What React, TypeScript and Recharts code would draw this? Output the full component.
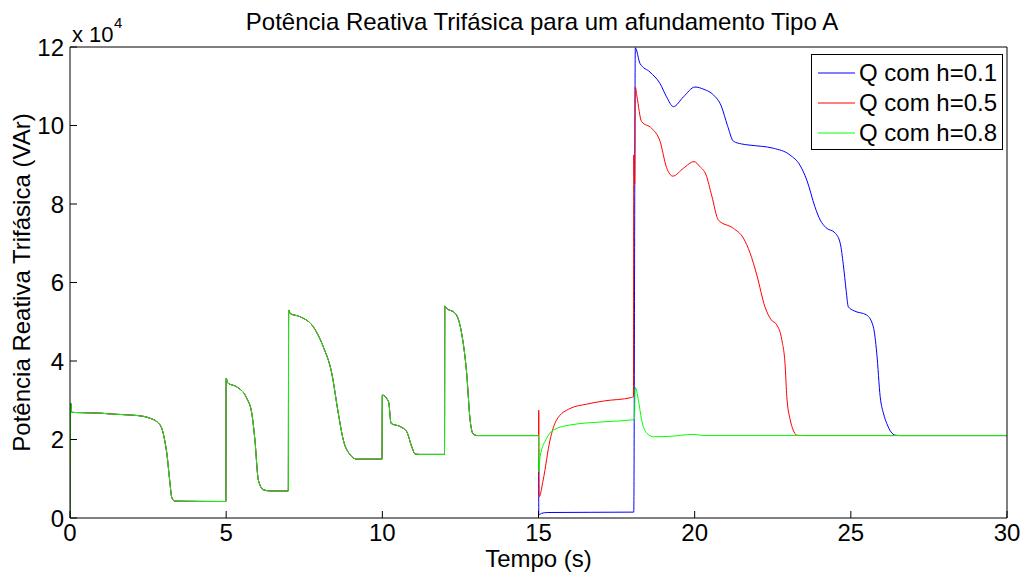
import { CartesianGrid, Legend, Line, LineChart, XAxis, YAxis } from 'recharts'

// tempo (s) x potência reativa (VAr) — trecho comum às três curvas (0 a 15 s)
const commonBefore15: [number, number][] = [
  [0, 0], [0.02, 29300], [0.06, 26900], [1, 26700], [1.3, 26500], [2, 26200],
  [2.35, 25900], [2.6, 25300], [2.77, 24600], [2.94, 22800], [3.05, 19000], [3.1, 16500],
  [3.19, 9700], [3.26, 5200], [3.35, 4300], [4.99, 4200],
  [5.0, 35600], [5.05, 34400], [5.34, 33400], [5.66, 30500], [5.82, 26700],
  [5.92, 19900], [6.03, 9700], [6.19, 7200], [6.4, 6900], [6.99, 6900],
  [7.0, 53000], [7.05, 52100], [7.36, 51300], [7.79, 48700], [8.11, 43600],
  [8.38, 36900], [8.59, 26700], [8.75, 19900], [8.97, 16100], [9.18, 15000],
  [9.99, 15000],
  [10.0, 31300], [10.2, 29600], [10.28, 24100], [10.57, 23300], [10.78, 22000],
  [10.94, 18200], [11.05, 16300], [11.2, 16200], [11.99, 16200],
  [12.0, 54000], [12.05, 53500], [12.33, 52200], [12.54, 47000], [12.7, 36900],
  [12.81, 25000], [12.91, 21400], [13.05, 21000], [15.0, 21000],
]

const blueAfter15: [number, number][] = [
  [15.01, 800], [15.1, 1200], [15.3, 1400], [18.05, 1500], [18.1, 119800],
  [18.25, 115800], [18.57, 113600], [18.89, 110700], [19.1, 107300], [19.32, 104800],
  [19.64, 107300], [20.01, 109800], [20.3, 109200], [20.6, 107800], [20.85, 105000],
  [21.05, 100000], [21.24, 96000], [21.5, 95300], [21.77, 95000], [22.52, 94200],
  [23.05, 92500], [23.37, 89900], [23.59, 86100], [23.85, 79300], [24.02, 75900],
  [24.2, 74000], [24.5, 72600], [24.66, 70000], [24.76, 64500], [24.85, 58000],
  [24.92, 53800], [25.1, 52800], [25.51, 51700], [25.72, 48700], [25.83, 42000],
  [25.94, 30900], [26.05, 26500], [26.15, 24100], [26.42, 21100], [26.6, 21000],
  [30, 21000],
]

const redAfter15: [number, number][] = [
  [15.005, 27500], [15.01, 27000], [15.02, 5400], [15.15, 9700], [15.37, 19900],
  [15.58, 25000], [16.01, 27900], [16.54, 29000], [17.08, 29800], [17.98, 30700],
  [18.04, 30900], [18.05, 92500], [18.08, 85000], [18.1, 109800], [18.15, 107500],
  [18.3, 101000], [18.62, 99300], [18.89, 96000], [19.1, 89300], [19.3, 87100],
  [19.64, 89100], [19.98, 90800], [20.17, 89500], [20.36, 87500], [20.55, 82000],
  [20.76, 75900], [21.24, 73800], [21.56, 71300], [21.77, 67600], [21.99, 61900],
  [22.25, 53800], [22.45, 50500], [22.63, 49200], [22.79, 45400], [22.9, 38500],
  [22.95, 30900], [23.06, 25000], [23.15, 22500], [23.27, 21100], [23.5, 21000],
  [30, 21000],
]

const greenAfter15: [number, number][] = [
  [15.01, 11800], [15.05, 15600], [15.26, 20300], [15.47, 22400], [16.01, 23700],
  [17.08, 24500], [17.98, 25000], [18.07, 25100], [18.1, 33300], [18.2, 30000],
  [18.3, 25000], [18.47, 21600], [18.68, 20700], [19.2, 20800], [19.96, 21300],
  [20.3, 21000], [30, 21000],
]

const seriesNames = ['Q com h=0.1', 'Q com h=0.5', 'Q com h=0.8']
const seriesColors = ['#0000ff', '#ff0000', '#00ff00']
const xTicks = [0, 5, 10, 15, 20, 25, 30]
const yTicks = [0, 20000, 40000, 60000, 80000, 100000, 120000]

const toPoints = (rows: [number, number][]) => rows.map(([t, q]) => ({ t, q }))

const seriesData = [
  toPoints([...commonBefore15, ...blueAfter15]),
  toPoints([...commonBefore15, ...redAfter15]),
  toPoints([...commonBefore15, ...greenAfter15]),
]

const FONT = '"Liberation Sans", Arial, Helvetica, sans-serif'

function LegendBox() {
  return (
    <div
      style={{
        width: 190,
        height: 94,
        border: '1px solid #000',
        background: '#fff',
        position: 'relative',
        fontFamily: FONT,
        fontSize: 24,
        color: '#000',
      }}
    >
      {seriesNames.map((name, i) => (
        <div
          key={name}
          style={{ position: 'absolute', left: 6, top: 5 + i * 30, height: 26, display: 'flex', alignItems: 'center' }}
        >
          <svg width={38} height={4} style={{ marginRight: 3 }}>
            <line x1={0} y1={2} x2={37} y2={2} stroke={seriesColors[i]} strokeWidth={1} />
          </svg>
          <span style={{ lineHeight: '26px', whiteSpace: 'nowrap' }}>{name}</span>
        </div>
      ))}
    </div>
  )
}

const noLabel = () => ''

export default function App() {
  return (
    <div
      style={{
        position: 'absolute',
        left: 0,
        top: 0,
        width: 1027,
        height: 575,
        background: '#fff',
        fontFamily: FONT,
      }}
    >
      <div
        style={{
          position: 'absolute',
          left: 0,
          width: 1084,
          top: 10,
          textAlign: 'center',
          fontSize: 24,
          lineHeight: '24px',
          color: '#000',
          whiteSpace: 'nowrap',
        }}
      >
        Potência Reativa Trifásica para um afundamento Tipo A
      </div>
      <div style={{ position: 'absolute', left: 72, top: 24, fontSize: 22, lineHeight: '22px', color: '#000' }}>
        x 10
      </div>
      <div style={{ position: 'absolute', left: 114, top: 15, fontSize: 15, lineHeight: '15px', color: '#000' }}>4</div>

      <LineChart width={1027} height={575} margin={{ top: 46, right: 19, bottom: 0, left: 0 }}>
        <CartesianGrid stroke="none" fill="#fff" />
        <XAxis
          type="number"
          dataKey="t"
          domain={[0, 30]}
          ticks={xTicks}
          height={57}
          tickSize={-7}
          tickMargin={13}
          stroke="#000"
          tickLine={{ stroke: '#000' }}
          tick={{ fill: '#000', fontSize: 24 }}
          allowDataOverflow
          label={{ value: 'Tempo (s)', position: 'insideBottom', offset: 8, fill: '#000', fontSize: 24 }}
        />
        <XAxis
          xAxisId="top"
          orientation="top"
          type="number"
          domain={[0, 30]}
          ticks={xTicks}
          height={1}
          tickSize={-7}
          stroke="#000"
          tickLine={{ stroke: '#000' }}
          tickFormatter={noLabel}
        />
        <YAxis
          type="number"
          domain={[0, 120000]}
          ticks={yTicks}
          width={70}
          tickSize={-7}
          tickMargin={13}
          stroke="#000"
          tickLine={{ stroke: '#000' }}
          tick={{ fill: '#000', fontSize: 24 }}
          tickFormatter={(v: number) => String(v / 10000)}
          allowDataOverflow
          label={{
            content: (props: any) => {
              const vb = props.viewBox || { y: 47, height: 471 }
              const cy = vb.y + vb.height / 2
              return (
                <text
                  x={21}
                  y={cy}
                  transform={`rotate(-90 21 ${cy})`}
                  textAnchor="middle"
                  dominantBaseline="central"
                  fontSize={24}
                  fill="#000"
                >
                  Potência Reativa Trifásica (VAr)
                </text>
              )
            },
          }}
        />
        <YAxis
          yAxisId="right"
          orientation="right"
          type="number"
          domain={[0, 120000]}
          ticks={yTicks}
          width={1}
          tickSize={-7}
          stroke="#000"
          tickLine={{ stroke: '#000' }}
          tickFormatter={noLabel}
        />
        {seriesData.map((data, i) => (
          <Line
            key={seriesNames[i]}
            data={data}
            dataKey="q"
            name={seriesNames[i]}
            type="monotone"
            stroke={seriesColors[i]}
            strokeWidth={1}
            dot={false}
            activeDot={false}
            isAnimationActive={false}
          />
        ))}
        <Legend
          layout="vertical"
          align="center"
          verticalAlign="middle"
          content={() => <LegendBox />}
          wrapperStyle={{ left: 811, top: 54, width: 192, height: 96 }}
        />
      </LineChart>
    </div>
  )
}
